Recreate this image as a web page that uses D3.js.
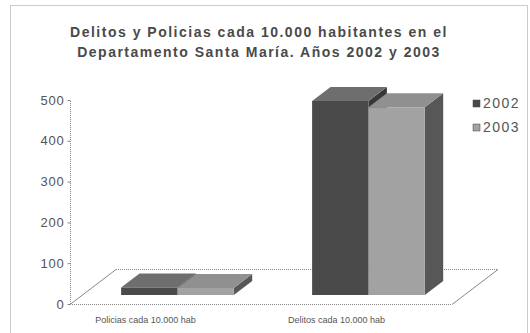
<!DOCTYPE html>
<html>
<head>
<meta charset="utf-8">
<script src="https://cdn.jsdelivr.net/npm/d3@7"></script>
<style>
  html, body { margin: 0; padding: 0; background: #fff; }
  svg { display: block; }
  text { font-family: "Liberation Sans", Arial, sans-serif; }
</style>
</head>
<body>
<svg id="chart" width="530" height="333"></svg>
<script>
// ---- data ----
const categories = ["Policias cada 10.000 hab", "Delitos cada 10.000 hab"];
const seriesNames = ["2002", "2003"];
const values2002 = [18, 475];
const values2003 = [17, 460];
const yTicks = [0, 100, 200, 300, 400, 500];
const titleLines = ["Delitos y Policias cada 10.000 habitantes en el",
                    "Departamento Santa María. Años 2002 y 2003"];

// ---- layout ----
const origin = [70, 304];       // front-left floor corner
const floorWidth = 382;          // along category axis
const depthVec = [46, -35];      // full depth offset
const valueHeight = 204;         // pixels for 0..500

const svg = d3.select("#chart");

const colors = {
  "2002": { front: "#4a4a4a", top: "#6e6e6e", side: "#383838" },
  "2003": { front: "#a2a2a2", top: "#909090", side: "#575757" }
};

// scales
const u = d3.scaleBand().domain(categories).range([0, 1]).paddingInner(0.41).paddingOuter(0.205);
const s = d3.scaleBand().domain(seriesNames).range([0, u.bandwidth()]).padding(0);
const yv = d3.scaleLinear().domain([0, 500]).range([0, valueHeight]);

function proj(uu, w, v) {
  return [origin[0] + uu * floorWidth + w * depthVec[0],
          origin[1] + w * depthVec[1] - yv(v)];
}

// outer border
svg.append("rect").attr("x", 10.5).attr("y", 5.5).attr("width", 517).attr("height", 340)
  .attr("fill", "none").attr("stroke", "#999").attr("stroke-dasharray", "1,1");

// title
svg.append("g").selectAll("text").data(titleLines).join("text")
  .attr("x", 259).attr("y", (d, i) => 37 + i * 20)
  .attr("text-anchor", "middle")
  .attr("font-size", 14).attr("font-weight", "bold").attr("letter-spacing", 1.5)
  .attr("fill", "#4a4a4a").text(d => d);

// floor
const fl = [proj(0, 0, 0), proj(1, 0, 0), proj(1, 1, 0), proj(0, 1, 0)];
svg.append("polygon").attr("points", fl.map(p => p.join(",")).join(" "))
  .attr("fill", "#fff").attr("stroke", "none");
const edge = (a, b, dashed) => svg.append("line")
  .attr("x1", a[0]).attr("y1", a[1] + 0.5).attr("x2", b[0]).attr("y2", b[1] + 0.5)
  .attr("stroke", "#888").attr("stroke-width", 1)
  .attr("stroke-dasharray", dashed ? "1,1" : null);
edge(fl[3], fl[2], true);   // back
edge(fl[0], fl[3], false);  // left
edge(fl[1], fl[2], false);  // right
edge(fl[0], fl[1], true);   // front

// y axis (front-left edge)
const yAxisScale = d3.scaleLinear().domain([0, 500]).range([origin[1], origin[1] - valueHeight]);
const yAxisG = svg.append("g").attr("transform", `translate(${origin[0] + 0.5},0)`)
  .call(d3.axisLeft(yAxisScale).tickValues(yTicks).tickSize(3).tickPadding(3));
yAxisG.select(".domain").attr("stroke", "#888").attr("stroke-dasharray", "1,1")
  .attr("d", `M0,${origin[1]}V${origin[1] - valueHeight}`);
yAxisG.selectAll(".tick line").attr("stroke", "#888");
yAxisG.selectAll(".tick text").attr("font-size", 13).attr("fill", "#555")
  .attr("letter-spacing", 0.8)
  .attr("font-family", "Liberation Sans, Arial, sans-serif");

// bars
const w0 = 0.26, w1 = 0.66;
const barData = [];
categories.forEach((c, ci) => {
  seriesNames.forEach((sn, si) => {
    const v = (sn === "2002" ? values2002 : values2003)[ci];
    barData.push({ c, sn, v, u0: u(c) + s(sn), u1: u(c) + s(sn) + s.bandwidth() });
  });
});
const pts = a => a.map(p => p.join(",")).join(" ");
const barsG = svg.append("g");
barData.forEach(d => {
  const g = barsG.append("g");
  const fbl = proj(d.u0, w0, 0), fbr = proj(d.u1, w0, 0),
        ftl = proj(d.u0, w0, d.v), ftr = proj(d.u1, w0, d.v),
        bbr = proj(d.u1, w1, 0), btl = proj(d.u0, w1, d.v), btr = proj(d.u1, w1, d.v);
  g.append("polygon").attr("points", pts([fbr, bbr, btr, ftr])).attr("fill", colors[d.sn].side);
  g.append("polygon").attr("points", pts([ftl, ftr, btr, btl])).attr("fill", colors[d.sn].top);
  g.append("polygon").attr("points", pts([fbl, fbr, ftr, ftl])).attr("fill", colors[d.sn].front);
});

// category labels
svg.append("g").selectAll("text").data(categories).join("text")
  .attr("x", c => proj(u(c) + u.bandwidth() / 2, 0, 0)[0] - 20)
  .attr("y", 323)
  .attr("text-anchor", "middle").attr("font-size", 9).attr("fill", "#555")
  .text(c => c);

// legend
const lg = svg.append("g").selectAll("g").data(seriesNames).join("g")
  .attr("transform", (d, i) => `translate(473,${100 + i * 24})`);
lg.append("rect").attr("width", 7).attr("height", 7).attr("fill", d => colors[d].front)
  .attr("stroke", "#444").attr("stroke-width", 0.5);
lg.append("text").attr("x", 10).attr("y", 8).attr("font-size", 14).attr("letter-spacing", 1.5)
  .attr("fill", "#555").text(d => d);
</script>
</body>
</html>
